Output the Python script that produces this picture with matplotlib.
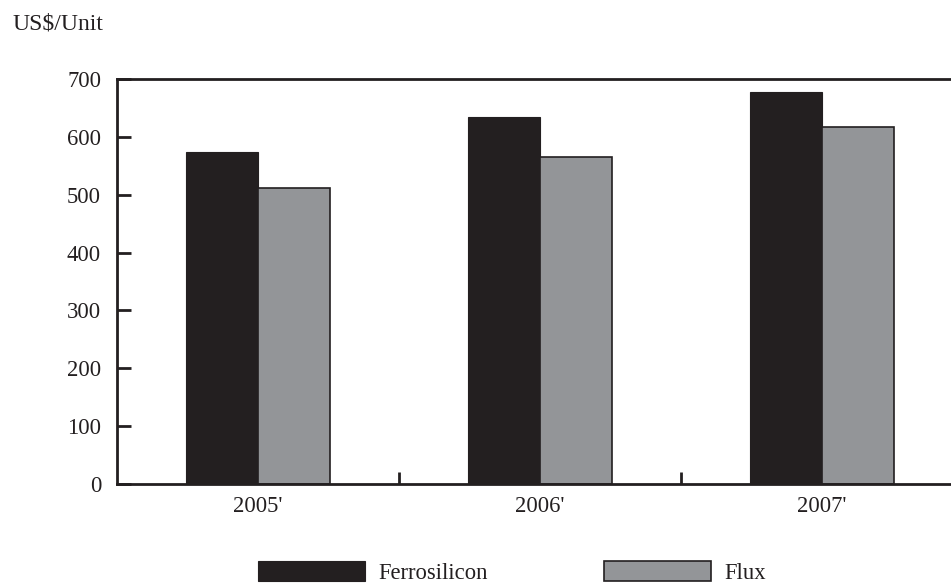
import matplotlib
matplotlib.use("Agg")
import matplotlib.pyplot as plt
import numpy as np
from matplotlib.ticker import FixedLocator

years = ["2005'", "2006'", "2007'"]
ferrosilicon = [574, 634, 678]
flux = [512, 565, 617]
yticks = [0, 100, 200, 300, 400, 500, 600, 700]

plt.rcParams["font.family"] = ["Liberation Serif", "DejaVu Serif"]
plt.rcParams["font.size"] = 16.3

dark = "#231f20"
grey = "#939598"

W, H = 951, 584
fig = plt.figure(figsize=(W / 100, H / 100), dpi=100)
# axes region in pixels: left 117, right 963 (past the canvas edge), top 79, bottom 484
ax = fig.add_axes([117 / W, (H - 484) / H, (963 - 117) / W, (484 - 79) / H])

x = np.arange(len(years))
bw = 0.255
b1 = ax.bar(x - bw / 2, ferrosilicon, bw, color=dark, edgecolor=dark, linewidth=0.8,
            label="Ferrosilicon")
b2 = ax.bar(x + bw / 2, flux, bw, color=grey, edgecolor=dark, linewidth=1.2,
            label="Flux")

ax.set_xlim(-0.5, 2.5)
ax.set_ylim(0, 700)
ax.set_yticks(yticks)
ax.set_xticks(x)
ax.set_xticklabels(years)
ax.xaxis.set_minor_locator(FixedLocator([0.5, 1.5]))

for s in ("left", "bottom", "top"):
    ax.spines[s].set_color(dark)
    ax.spines[s].set_linewidth(2)
ax.spines["right"].set_visible(False)

ax.tick_params(axis="y", direction="in", length=10, width=2, color=dark,
               pad=11.5, labelcolor=dark)
ax.tick_params(axis="x", which="major", length=0, pad=9, labelcolor=dark)
ax.tick_params(axis="x", which="minor", direction="in", length=9, width=2, color=dark)

fig.text(12 / W, 1 - 24 / H, "US$/Unit", ha="left", va="center", color=dark,
         fontsize=17)

fig.legend(handles=[b1, b2], labels=["Ferrosilicon", "Flux"], ncol=2,
           loc="upper left", bbox_to_anchor=(258 / W, 1 - 561 / H),
           frameon=False, borderpad=0, borderaxespad=0,
           handlelength=4.73, handleheight=0.95, handletextpad=0.6,
           columnspacing=5.1, labelcolor=dark)

fig.savefig("out.png", dpi=100)
